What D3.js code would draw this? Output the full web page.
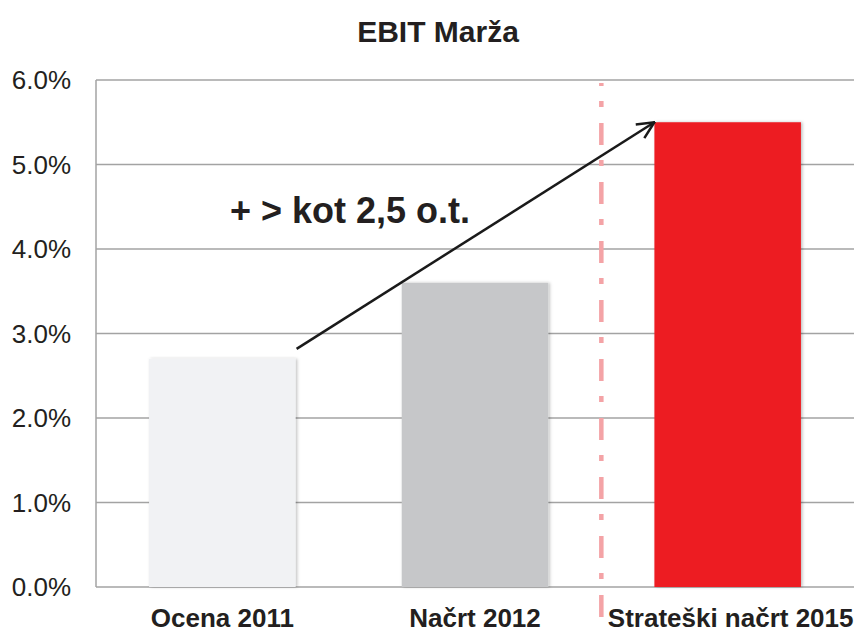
<!DOCTYPE html>
<html><head><meta charset="utf-8">
<script src="https://cdn.jsdelivr.net/npm/d3@7"></script>
<style>body{margin:0;background:#fff}svg{display:block;font-family:"Liberation Sans",Arial,sans-serif}</style>
</head><body><svg id="c" width="854" height="632"></svg>
<script>
const categories = ["Ocena 2011", "Načrt 2012", "Strateški načrt 2015"];
const values = [2.7, 3.6, 5.5];
const colors = ["#f1f2f4", "#c6c7c9", "#ed1c24"];
const ticks = [0, 1, 2, 3, 4, 5, 6];
const title = "EBIT Marža";
const annotation = "+ > kot 2,5 o.t.";

const svg = d3.select("#c");
const m = {left: 96, right: 854, top: 80, bottom: 587};
const x = d3.scaleBand().domain(categories).range([m.left, m.right]).paddingInner(0.42).paddingOuter(0.21);
const y = d3.scaleLinear().domain([0, 6]).range([m.bottom, m.top]);

const defs = svg.append("defs");
const f = defs.append("filter").attr("id","sh").attr("x","-10%").attr("y","-10%").attr("width","120%").attr("height","120%");
f.append("feDropShadow").attr("dx",1.5).attr("dy",0).attr("stdDeviation",1.5).attr("flood-color","#000").attr("flood-opacity",0.25);
defs.append("marker").attr("id","ah").attr("viewBox","0 0 20 20").attr("refX",19).attr("refY",10)
  .attr("markerWidth",20).attr("markerHeight",20).attr("markerUnits","userSpaceOnUse").attr("orient","auto")
  .append("path").attr("d","M2,2 L19,10 L2,18").attr("fill","none").attr("stroke","#1a1a1a").attr("stroke-width",2.5);

// gridlines
svg.append("g").selectAll("line").data(ticks).join("line")
  .attr("x1", m.left).attr("x2", m.right).attr("y1", d => y(d)).attr("y2", d => y(d))
  .attr("stroke", "#a3a3a3").attr("stroke-width", 1.5);
// y axis line
svg.append("line").attr("x1", m.left).attr("x2", m.left).attr("y1", y(6)).attr("y2", y(0))
  .attr("stroke", "#a3a3a3").attr("stroke-width", 1.5);

// tick labels
svg.append("g").selectAll("text").data(ticks).join("text")
  .attr("x", 71).attr("y", d => y(d) + 9).attr("text-anchor", "end")
  .attr("font-size", 26).attr("fill", "#231f20").text(d => d.toFixed(1) + "%");

// bars
svg.append("g").selectAll("rect").data(categories).join("rect")
  .attr("x", d => x(d)).attr("width", x.bandwidth())
  .attr("y", (d,i) => y(values[i])).attr("height", (d,i) => y(0) - y(values[i]))
  .attr("fill", (d,i) => colors[i]).attr("filter","url(#sh)");

// separator dash-dot line
const sepX = (x(categories[1]) + x.bandwidth() + x(categories[2])) / 2;
svg.append("line").attr("x1", sepX).attr("x2", sepX).attr("y1", 83).attr("y2", 632)
  .attr("stroke", "#f4a3a6").attr("stroke-width", 4.5)
  .attr("stroke-dasharray", "22 15 6 16").attr("stroke-dashoffset", 19);

// category labels
svg.append("g").selectAll("text").data(categories).join("text")
  .attr("x", d => x(d) + x.bandwidth()/2 + (d === categories[2] ? 3 : 0)).attr("y", 627)
  .attr("text-anchor", "middle").attr("font-size", 26).attr("font-weight", "bold")
  .attr("fill", "#231f20").text(d => d);

// arrow
svg.append("line")
  .attr("x1", x(categories[0]) + x.bandwidth() + 1).attr("y1", y(values[0]) - 10)
  .attr("x2", x(categories[2])).attr("y2", y(values[2]))
  .attr("stroke", "#1a1a1a").attr("stroke-width", 2.5).attr("marker-end", "url(#ah)");

// annotation
svg.append("text").attr("x", 230).attr("y", 223).attr("font-size", 36).attr("font-weight", "bold")
  .attr("fill", "#231f20").text(annotation);

// title
svg.append("text").attr("x", 438).attr("y", 42).attr("text-anchor", "middle")
  .attr("font-size", 30).attr("font-weight", "bold").attr("fill", "#231f20").text(title);
</script></body></html>
